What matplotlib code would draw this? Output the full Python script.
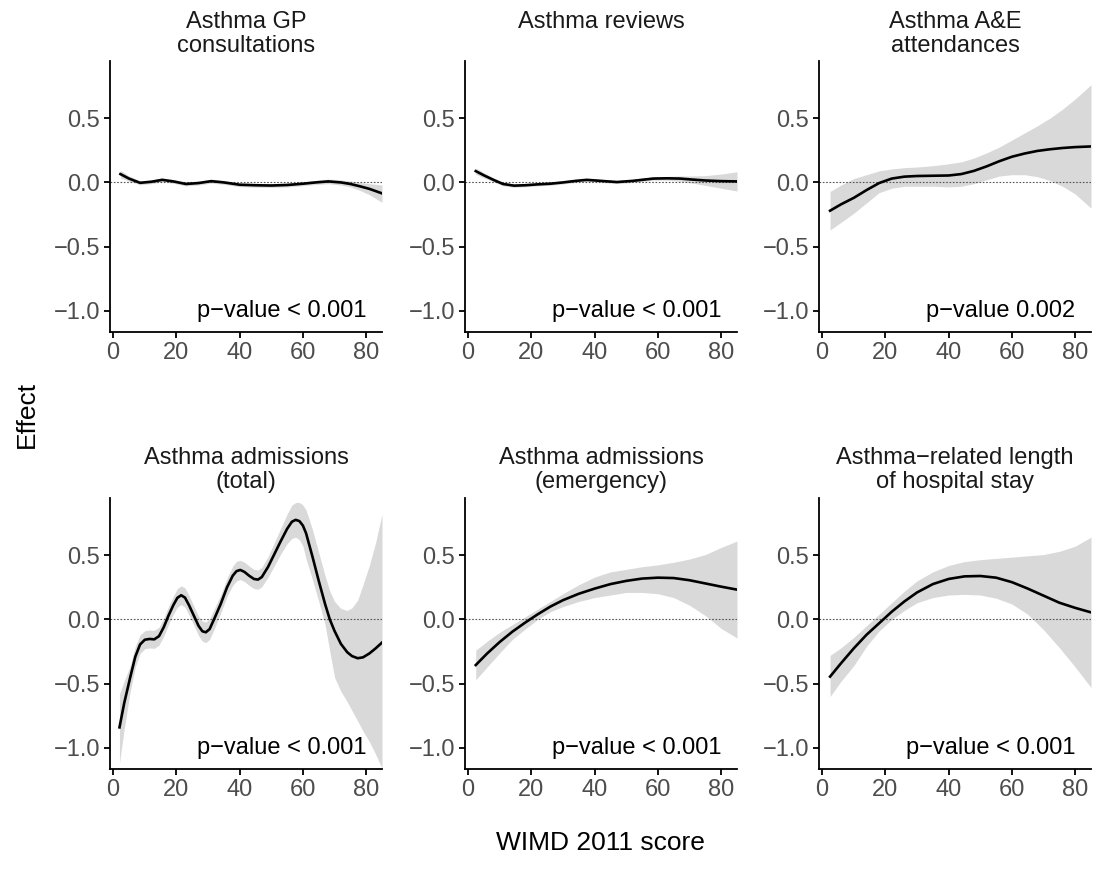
import matplotlib
matplotlib.use("Agg")
import matplotlib.pyplot as plt
from matplotlib.ticker import FuncFormatter

plt.rcParams['font.family'] = ['Liberation Sans', 'DejaVu Sans']

# ---- smooth effect estimates (fit, lower and upper 95% band) by WIMD score ----
gp_x = [2.3, 5, 8.5, 12, 15.5, 19, 23, 27, 31, 35, 40, 45, 50, 55, 60, 64, 68, 72, 75, 78, 81, 85]
gp_fit = [0.065, 0.03, -0.003, 0.005, 0.02, 0.008, -0.012, -0.005, 0.01, 0.0, -0.018, -0.022,
          -0.024, -0.02, -0.01, 0.0, 0.008, 0.0, -0.012, -0.03, -0.05, -0.085]
gp_lo = [0.035, 0.01, -0.018, -0.01, 0.005, -0.007, -0.027, -0.02, -0.005, -0.015, -0.033, -0.037,
         -0.039, -0.035, -0.025, -0.016, -0.01, -0.02, -0.035, -0.062, -0.095, -0.155]
gp_hi = [0.095, 0.05, 0.012, 0.02, 0.035, 0.023, 0.003, 0.01, 0.025, 0.015, -0.003, -0.007,
         -0.009, -0.005, 0.005, 0.016, 0.026, 0.02, 0.01, 0.0, -0.01, -0.02]

rev_x = [2.4, 5, 8, 11, 14.5, 18, 22, 26, 30, 34, 37.5, 42, 47, 52, 58.5, 63, 67, 71, 75, 80, 85]
rev_fit = [0.088, 0.055, 0.02, -0.012, -0.025, -0.022, -0.015, -0.01, 0.0, 0.012, 0.02, 0.012,
           0.003, 0.012, 0.03, 0.032, 0.03, 0.022, 0.015, 0.01, 0.008]
rev_lo = [0.063, 0.035, 0.005, -0.026, -0.038, -0.034, -0.027, -0.022, -0.012, 0.0, 0.008, 0.0,
          -0.009, 0.0, 0.017, 0.017, 0.01, -0.006, -0.023, -0.045, -0.067]
rev_hi = [0.113, 0.075, 0.035, 0.002, -0.012, -0.01, -0.003, 0.002, 0.012, 0.024, 0.032, 0.024,
          0.015, 0.024, 0.043, 0.047, 0.05, 0.05, 0.053, 0.065, 0.083]

ae_x = [2.5, 6, 10, 14, 18, 22, 26, 30, 35, 40, 44, 48, 52, 56, 60, 64, 68, 72, 76, 80, 85]
ae_fit = [-0.22, -0.17, -0.12, -0.06, -0.005, 0.03, 0.045, 0.05, 0.052, 0.054, 0.065, 0.09,
          0.125, 0.165, 0.2, 0.225, 0.245, 0.258, 0.268, 0.275, 0.28]
ae_lo = [-0.37, -0.31, -0.24, -0.16, -0.08, -0.045, -0.03, -0.03, -0.03, -0.035, -0.03, -0.01,
         0.02, 0.05, 0.06, 0.06, 0.045, 0.015, -0.03, -0.09, -0.2]
ae_hi = [-0.07, -0.02, 0.03, 0.06, 0.09, 0.105, 0.115, 0.12, 0.13, 0.145, 0.16, 0.19,
         0.23, 0.275, 0.33, 0.385, 0.44, 0.5, 0.57, 0.65, 0.76]

tot_x = [2, 3.5, 5.4, 7, 8.5, 10, 11.5, 13, 14.5, 16, 17.5, 19, 20.3, 21.5, 22.7, 24, 25.5,
         27, 28.2, 29.3, 30.5, 32.2, 34, 36, 37.8, 39, 40.2, 41.5, 43, 44.5, 45.8, 47, 49, 51,
         53, 55, 56.5, 57.7, 58.9, 60, 61, 63, 65, 67, 68.5, 70, 72, 74, 75.5, 77.3, 79, 81,
         83, 85]
tot_fit = [-0.84, -0.65, -0.45, -0.29, -0.195, -0.158, -0.152, -0.155, -0.13, -0.06, 0.03, 0.11,
           0.168, 0.188, 0.17, 0.11, 0.03, -0.05, -0.092, -0.1, -0.075, 0.018, 0.12, 0.25,
           0.34, 0.376, 0.385, 0.37, 0.34, 0.315, 0.31, 0.33, 0.41, 0.51, 0.61, 0.705, 0.76,
           0.775, 0.765, 0.73, 0.67, 0.49, 0.3, 0.12, 0.0, -0.09, -0.19, -0.255, -0.285,
           -0.302, -0.295, -0.265, -0.225, -0.18]
tot_lo = [-1.12, -0.85, -0.56, -0.37, -0.265, -0.228, -0.222, -0.225, -0.2, -0.13, -0.04, 0.04,
          0.095, 0.115, 0.095, 0.035, -0.045, -0.125, -0.17, -0.18, -0.155, -0.06, 0.05, 0.18,
          0.265, 0.3, 0.31, 0.295, 0.265, 0.24, 0.235, 0.255, 0.33, 0.42, 0.51, 0.59, 0.63,
          0.64, 0.62, 0.57, 0.47, 0.31, 0.14, -0.04, -0.25, -0.45, -0.56, -0.64, -0.71, -0.79,
          -0.87, -0.95, -1.05, -1.16]
tot_hi = [-0.58, -0.48, -0.36, -0.21, -0.12, -0.088, -0.082, -0.085, -0.06, 0.01, 0.1, 0.18,
          0.24, 0.262, 0.245, 0.185, 0.105, 0.025, -0.014, -0.02, 0.005, 0.095, 0.19, 0.32,
          0.415, 0.452, 0.46, 0.445, 0.415, 0.39, 0.385, 0.405, 0.49, 0.6, 0.71, 0.82, 0.89,
          0.91, 0.91, 0.89, 0.85, 0.7, 0.52, 0.34, 0.22, 0.14, 0.085, 0.07, 0.09, 0.15, 0.27,
          0.42, 0.6, 0.82]

em_x = [2.4, 6, 10, 14, 18, 22, 26, 30, 35, 40, 45, 50, 55, 60, 65, 70, 75, 80, 85]
em_fit = [-0.355, -0.265, -0.175, -0.095, -0.025, 0.04, 0.1, 0.15, 0.2, 0.24, 0.275, 0.3,
          0.318, 0.325, 0.322, 0.305, 0.28, 0.255, 0.232]
em_lo = [-0.47, -0.37, -0.26, -0.155, -0.075, 0.0, 0.06, 0.1, 0.14, 0.17, 0.19, 0.21,
         0.21, 0.2, 0.17, 0.11, 0.03, -0.07, -0.145]
em_hi = [-0.24, -0.17, -0.1, -0.04, 0.02, 0.08, 0.14, 0.2, 0.27, 0.33, 0.37, 0.39,
         0.41, 0.425, 0.445, 0.47, 0.505, 0.56, 0.61]

los_x = [2.5, 6, 10, 14, 18, 22, 26, 30, 35, 40, 45, 50, 55, 60, 65, 70, 75, 80, 85]
los_fit = [-0.445, -0.34, -0.225, -0.12, -0.03, 0.06, 0.14, 0.21, 0.275, 0.315, 0.335, 0.338,
           0.325, 0.29, 0.24, 0.185, 0.13, 0.09, 0.055]
los_lo = [-0.6, -0.48, -0.36, -0.21, -0.09, 0.0, 0.07, 0.13, 0.17, 0.19, 0.195, 0.19,
          0.165, 0.12, 0.04, -0.08, -0.22, -0.37, -0.53]
los_hi = [-0.28, -0.22, -0.14, -0.05, 0.04, 0.13, 0.22, 0.3, 0.37, 0.42, 0.45, 0.465,
          0.475, 0.485, 0.495, 0.505, 0.53, 0.57, 0.64]

titles = ["Asthma GP\nconsultations", "Asthma reviews", "Asthma A&E\nattendances",
          "Asthma admissions\n(total)", "Asthma admissions\n(emergency)",
          "Asthma\u2212related length\nof hospital stay"]
p_labels = ["p\u2212value < 0.001", "p\u2212value < 0.001", "p\u2212value 0.002",
            "p\u2212value < 0.001", "p\u2212value < 0.001", "p\u2212value < 0.001"]
x_ticks = [0, 20, 40, 60, 80]
y_ticks = [-1.0, -0.5, 0.0, 0.5]

panels = [(gp_x, gp_fit, gp_lo, gp_hi), (rev_x, rev_fit, rev_lo, rev_hi),
          (ae_x, ae_fit, ae_lo, ae_hi), (tot_x, tot_fit, tot_lo, tot_hi),
          (em_x, em_fit, em_lo, em_hi), (los_x, los_fit, los_lo, los_hi)]

W, H = 1104, 869
fig = plt.figure(figsize=(W / 100, H / 100), dpi=100)

col_left = [110, 465, 819]
panel_w = 272
row_top = [61, 498]
panel_h = 271
title_top = [11, 447]

fmt = FuncFormatter(lambda v, pos: f"{v:.1f}".replace("-", "\u2212"))

for i, (x, fit, lo, hi) in enumerate(panels):
    r, c = divmod(i, 3)
    ax = fig.add_axes([col_left[c] / W, 1 - (row_top[r] + panel_h) / H, panel_w / W, panel_h / H])
    ax.fill_between(x, lo, hi, color="#D9D9D9", linewidth=0, zorder=1)
    ax.axhline(0, color="#555555", lw=0.8, linestyle=(0, (1.5, 1.5)), zorder=2)
    ax.plot(x, fit, color="black", lw=1.9, zorder=3, solid_joinstyle="round")
    ax.text(80, -1.0, p_labels[i], ha="right", va="center", fontsize=17, color="black", zorder=4)

    ax.set_xlim(-1, 85)
    ax.set_ylim(-1.164, 0.945)
    ax.set_xticks(x_ticks)
    ax.set_yticks(y_ticks)
    ax.yaxis.set_major_formatter(fmt)
    for side in ("top", "right"):
        ax.spines[side].set_visible(False)
    for side in ("left", "bottom"):
        ax.spines[side].set_linewidth(1.3)
        ax.spines[side].set_color("black")
    ax.tick_params(direction="out", length=4, width=1.3, color="black",
                   labelsize=17, labelcolor="#4D4D4D", pad=3)

    fig.text((col_left[c] + panel_w / 2) / W, 1 - title_top[r] / H, titles[i],
             ha="center", va="top", fontsize=17, color="#1A1A1A", linespacing=1.1)

fig.text(27 / W, 1 - 414 / H, "Effect", rotation=90, ha="center", va="center", fontsize=19)
fig.text(600 / W, 1 - 843 / H, "WIMD 2011 score", ha="center", va="center", fontsize=19)

fig.savefig("out.png", dpi=100, facecolor="white")
